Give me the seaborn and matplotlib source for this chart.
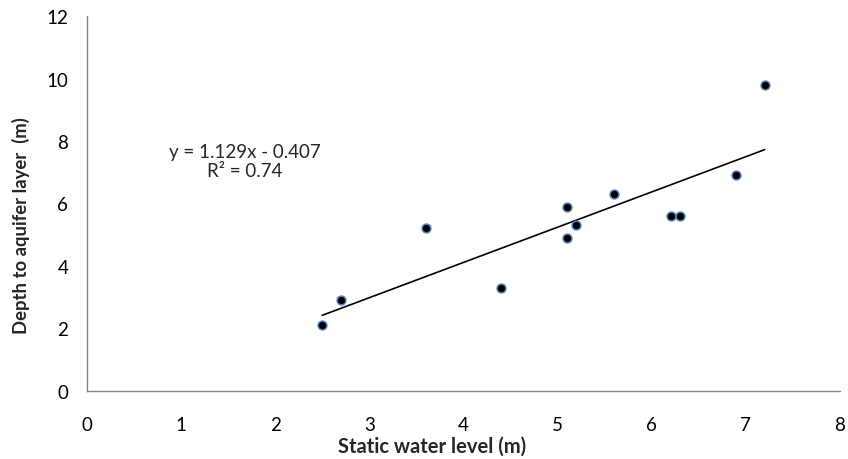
import numpy as np
import pandas as pd
import matplotlib
matplotlib.use("Agg")
import matplotlib.pyplot as plt
import seaborn as sns

# Values
static_level = [2.5, 2.7, 3.6, 4.4, 5.1, 5.1, 5.2, 5.6, 6.2, 6.3, 6.9, 7.2]
aquifer_depth = [2.1, 2.9, 5.2, 3.3, 5.9, 4.9, 5.3, 6.3, 5.6, 5.6, 6.9, 9.8]
x_ticks = [0, 1, 2, 3, 4, 5, 6, 7, 8]
y_ticks = [0, 2, 4, 6, 8, 10, 12]
equation_text = "y = 1.129x - 0.407\nR\u00b2 = 0.74"

df = pd.DataFrame({"static": static_level, "depth": aquifer_depth})

sns.set_style("white")
plt.rcParams["font.family"] = ["Lato", "DejaVu Sans"]

fig = plt.figure(figsize=(8.48, 4.6), dpi=100)
ax = fig.add_axes([87 / 848, 1 - 391.7 / 460, 753 / 848, 374.4 / 460])

# trend line (least squares, drawn from min to max x)
sns.regplot(data=df, x="static", y="depth", ax=ax, ci=None, scatter=False,
            truncate=True, line_kws={"color": "black", "linewidth": 1.2})
sns.scatterplot(data=df, x="static", y="depth", ax=ax, s=40, color="black",
                edgecolor="#4f81bd", linewidth=1.1, zorder=3)

ax.set_xlim(0, 8)
ax.set_ylim(0, 12)
ax.set_xticks(x_ticks)
ax.set_yticks(y_ticks)

for side in ["top", "right"]:
    ax.spines[side].set_visible(False)
for side in ["left", "bottom"]:
    ax.spines[side].set_color("#868686")
    ax.spines[side].set_linewidth(1.0)

ax.tick_params(axis="both", direction="out", length=4.5, width=1.0,
               color="#868686", labelsize=13.5, labelcolor="black")
ax.tick_params(axis="x", pad=14)
ax.tick_params(axis="y", pad=9)

ax.set_xlabel("Static water level (m)", fontsize=14.5, fontweight="bold")
ax.set_ylabel("Depth to aquifer layer  (m)", fontsize=13.3, fontweight="bold")
ax.xaxis.label.set_va("center")
ax.xaxis.set_label_coords((432 - 87) / 753, (391.7 - 447) / 374.4)
ax.yaxis.label.set_va("center")
ax.yaxis.set_label_coords((21 - 87) / 753, (391.7 - 226) / 374.4)

ax.text(1.68, 7.36, equation_text, ha="center", va="center",
        fontsize=13.5, linespacing=1.2)

fig.savefig("out.png", dpi=100)
